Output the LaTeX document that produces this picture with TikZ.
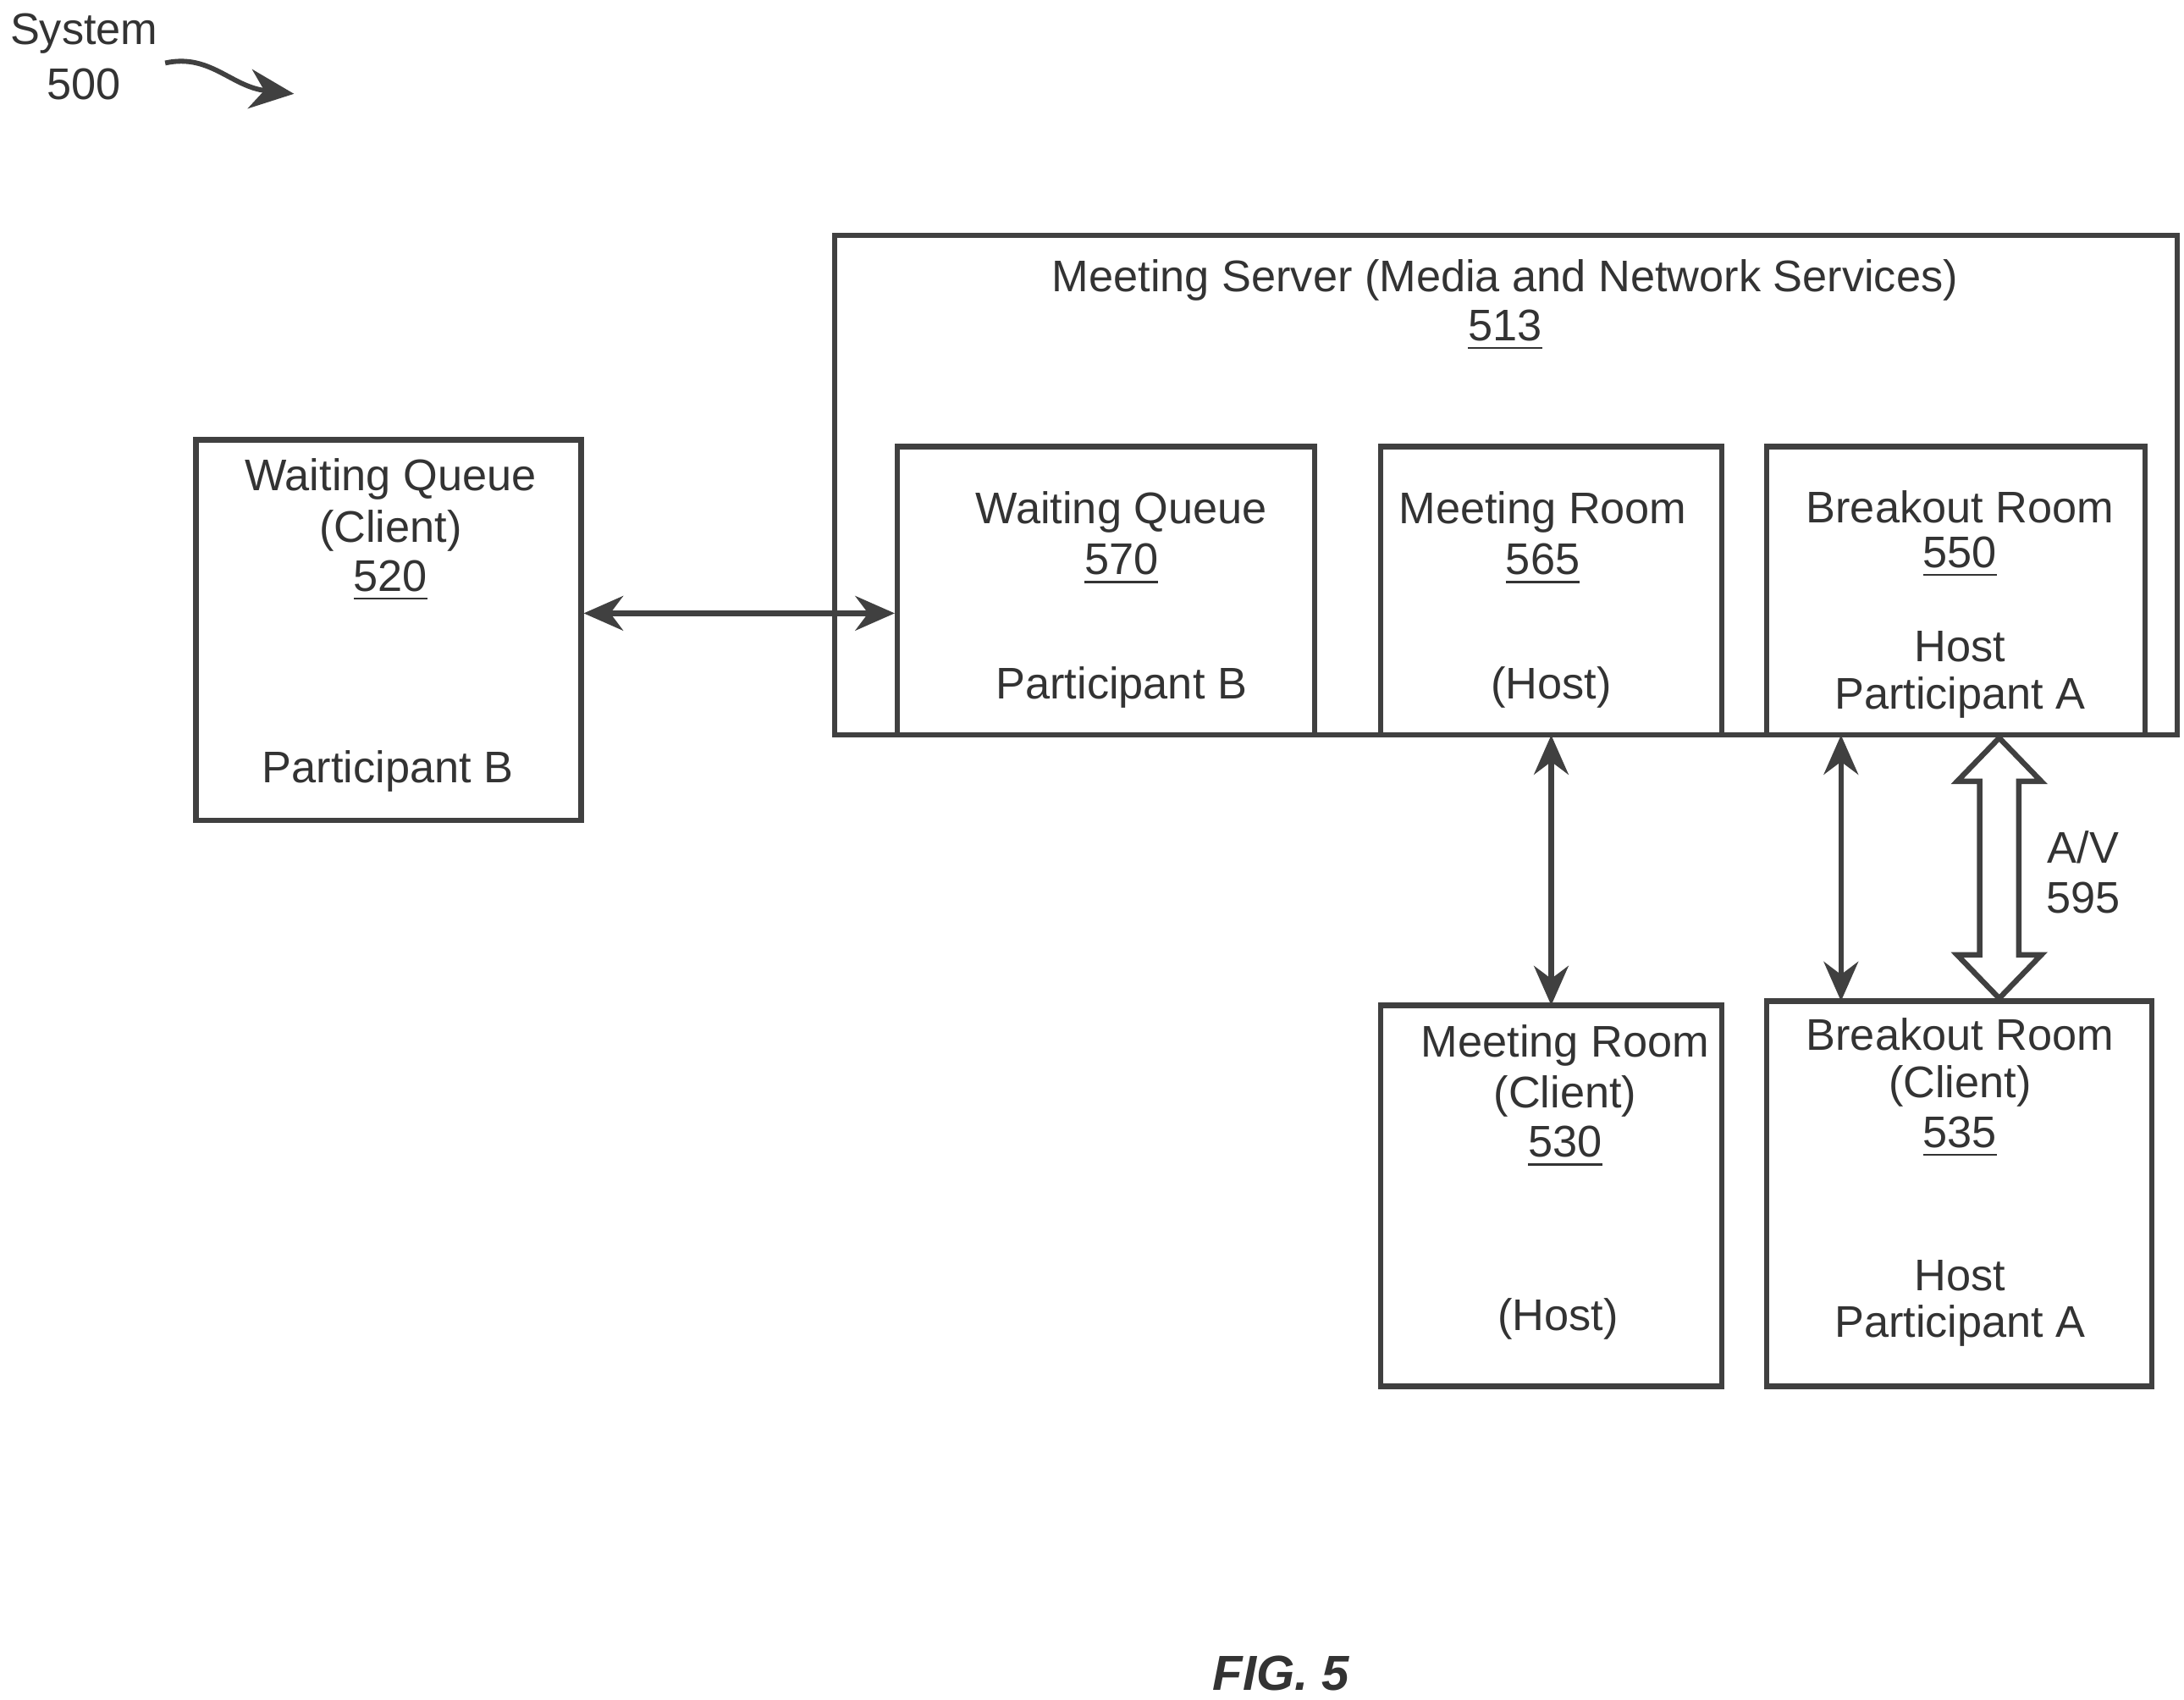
\documentclass[tikz,border=0pt]{standalone}
\usepackage{fontspec}
\setmainfont{Liberation Sans}
\usetikzlibrary{arrows.meta}
\begin{document}
\begin{tikzpicture}[x=0.1mm,y=-0.1mm,
  box/.style={draw=black!75,line width=1.1pt,inner sep=0pt},
  lbl/.style={font=\fontsize{9}{10}\selectfont,text=black!80,inner sep=0pt},
  con/.style={draw=black!75,line width=1.1pt,{Stealth[length=8pt,width=7pt]}-{Stealth[length=8pt,width=7pt]}}]
\useasboundingbox (0,0) rectangle (1560,1214);
\newcommand\bx[5]{\node[box,minimum width={(#4-#2)*0.1mm},minimum height={(#5-#3)*0.1mm}] (#1) at ({(#2+#4)/2},{(#3+#5)/2}) {};}
\newcommand\tx[4]{\node[lbl] (#1) at (#2,#3) {#4};}
\bx{srv}{596}{168}{1555}{525}
\bx{wqc}{140}{314}{415}{586}
\bx{wqs}{641}{319}{939}{525}
\bx{mrs}{986}{319}{1230}{525}
\bx{brs}{1262}{319}{1532}{525}
\bx{mrc}{986}{718}{1230}{990}
\bx{brc}{1262}{715}{1537}{990}
\tx{t1}{60}{24}{System}
\tx{t2}{60}{60}{500}
\coordinate (s0) at (118,45);
\coordinate (s1) at (210,67);
\draw[draw=black!75,line width=1pt,-{Stealth[length=9pt,width=8pt]}] (s0) .. controls (150,38) and (165,62) .. (s1);
\tx{a1}{1075}{200}{Meeting Server (Media and Network Services)}
\tx{a2}{1075}{236}{\underline{513}}
\tx{b1}{279}{342}{Waiting Queue}
\tx{b2}{279}{379}{(Client)}
\tx{b3}{279}{415}{\underline{520}}
\tx{b4}{277}{551}{Participant B}
\tx{c1}{801}{366}{Waiting Queue}
\tx{c2}{801}{403}{\underline{570}}
\tx{c3}{801}{491}{Participant B}
\tx{d1}{1102}{366}{Meeting Room}
\tx{d2}{1102}{403}{\underline{565}}
\tx{d3}{1108}{491}{(Host)}
\tx{e1}{1400}{362}{Breakout Room}
\tx{e2}{1400}{398}{\underline{550}}
\tx{e3}{1400}{462}{Host}
\tx{e4}{1400}{498}{Participant A}
\tx{f1}{1118}{747}{Meeting Room}
\tx{f2}{1118}{783}{(Client)}
\tx{f3}{1118}{819}{\underline{530}}
\tx{f4}{1113}{942}{(Host)}
\tx{g1}{1400}{739}{Breakout Room}
\tx{g2}{1400}{776}{(Client)}
\tx{g3}{1400}{812}{\underline{535}}
\tx{g4}{1400}{911}{Host}
\tx{g5}{1400}{947}{Participant A}
\tx{h1}{1488}{605}{A/V}
\tx{h2}{1488}{641}{595}
\node[lbl,font=\fontsize{10}{11}\selectfont\bfseries\itshape] (fig) at (915,1195) {FIG. 5};
\draw[con] (wqc.east |- 0,438) -- (wqs.west |- 0,438);
\draw[con] (1108,525) -- (1108,718);
\draw[con] (1315,525) -- (1315,715);
\draw[draw=black!75,line width=1.1pt,fill=white] (1428,527) -- (1458,558) -- (1442,558) -- (1442,682) -- (1458,682) -- (1428,713) -- (1398,682) -- (1414,682) -- (1414,558) -- (1398,558) -- cycle;
\end{tikzpicture}
\end{document}
